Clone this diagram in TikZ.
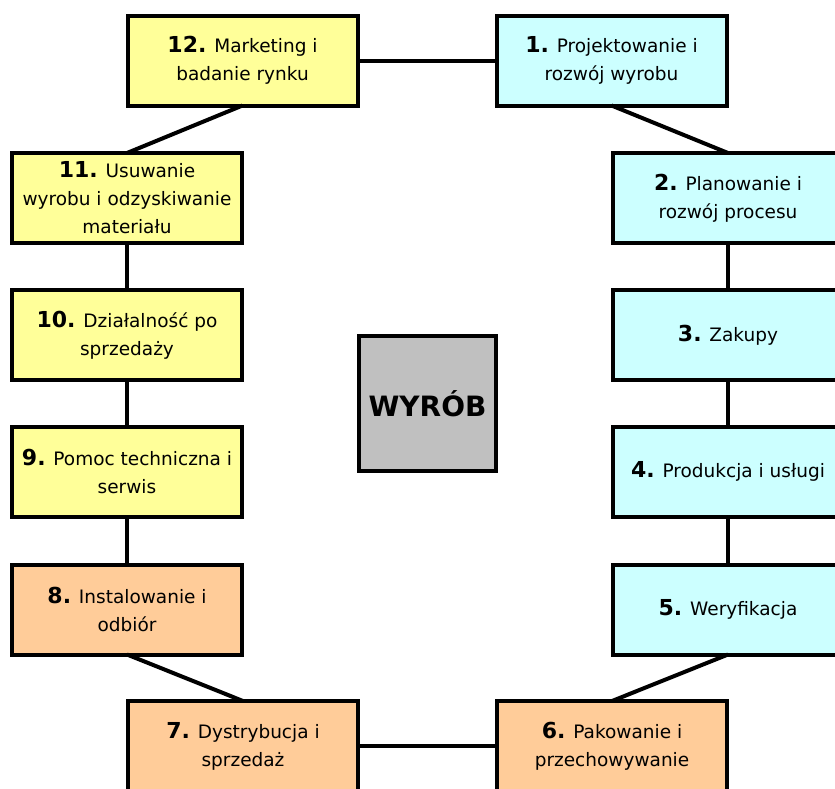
\documentclass[tikz,border=0pt]{standalone}
\usepackage{fontspec}
\setmainfont{DejaVu Sans}

\definecolor{boxyellow}{HTML}{FFFF99}
\definecolor{boxcyan}{HTML}{CCFFFF}
\definecolor{boxorange}{HTML}{FFCC99}
\definecolor{boxgray}{HTML}{C0C0C0}

\newcommand{\stepno}[1]{{\fontsize{22}{28}\selectfont\bfseries #1.}}

\begin{document}
\begin{tikzpicture}[
  x = 1pt,
  y = -1pt,
  stage/.style = {
    shape = rectangle,
    draw = black,
    line width = 4pt,
    minimum width = 230pt,
    minimum height = 90pt,
    inner sep = 2pt,
    outer sep = 0pt,
    align = center,
    font = \fontsize{18.5}{28}\selectfont,
  },
  link/.style = {
    line width = 4pt,
  }
]
  \useasboundingbox (0, 0) rectangle (835, 788);

  \node[stage, fill = boxcyan] (s1) at (611.5, 60.5) {\stepno{1} Projektowanie i\\rozwój wyrobu};
  \node[stage, fill = boxcyan] (s2) at (728, 198) {\stepno{2} Planowanie i\\rozwój procesu};
  \node[stage, fill = boxcyan] (s3) at (728, 335) {\stepno{3} Zakupy};
  \node[stage, fill = boxcyan] (s4) at (728, 471.5) {\stepno{4} Produkcja i usługi};
  \node[stage, fill = boxcyan] (s5) at (728, 609.5) {\stepno{5} Weryfikacja};
  \node[stage, fill = boxorange] (s6) at (612, 746) {\stepno{6} Pakowanie i\\przechowywanie};
  \node[stage, fill = boxorange] (s7) at (243, 746) {\stepno{7} Dystrybucja i\\sprzedaż};
  \node[stage, fill = boxorange] (s8) at (127, 609.5) {\stepno{8} Instalowanie i\\odbiór};
  \node[stage, fill = boxyellow] (s9) at (127, 471.5) {\stepno{9} Pomoc techniczna i\\serwis};
  \node[stage, fill = boxyellow] (s10) at (127, 335) {\stepno{10} Działalność po\\sprzedaży};
  \node[stage, fill = boxyellow] (s11) at (127, 198) {\stepno{11} Usuwanie\\wyrobu i odzyskiwanie\\materiału};
  \node[stage, fill = boxyellow] (s12) at (242.5, 60.5) {\stepno{12} Marketing i\\badanie rynku};

  \node[stage, fill = boxgray, minimum width = 137pt, minimum height = 135pt,
    font = \fontsize{28}{34}\selectfont\bfseries] (product) at (427.5, 403.5) {WYRÓB};

  \begin{scope}[every path/.style = {link}]
    \draw (s12.east) -- (s1.west);
    \draw (s1.south) -- (s2.north);
    \draw (s2.south) -- (s3.north);
    \draw (s3.south) -- (s4.north);
    \draw (s4.south) -- (s5.north);
    \draw (s5.south) -- (s6.north);
    \draw (s6.west) -- (s7.east);
    \draw (s7.north) -- (s8.south);
    \draw (s8.north) -- (s9.south);
    \draw (s9.north) -- (s10.south);
    \draw (s10.north) -- (s11.south);
    \draw (s11.north) -- (s12.south);
  \end{scope}
\end{tikzpicture}
\end{document}
